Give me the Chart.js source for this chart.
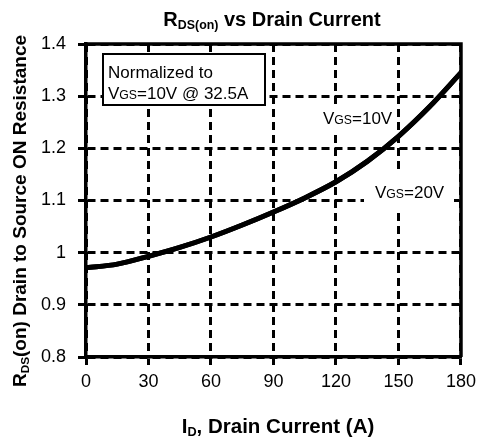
<!DOCTYPE html>
<html>
<head>
<meta charset="utf-8">
<script src="https://cdn.jsdelivr.net/npm/chart.js@4/dist/chart.umd.min.js"></script>
<style>
  html, body { margin: 0; padding: 0; background: #fff; }
  #wrap { width: 482px; height: 443px; }
</style>
</head>
<body>
<div id="wrap"><canvas id="rdsChart"></canvas></div>
<script>
// values
const drainCurrent = [0, 15, 30, 45, 60, 75, 90, 105, 120, 135, 150, 165, 180];
const rdsVgs10 = [0.971, 0.978, 0.993, 1.010, 1.030, 1.053, 1.078, 1.105, 1.136, 1.175, 1.223, 1.280, 1.345];
const rdsVgs20 = [0.971, 0.978, 0.993, 1.010, 1.030, 1.053, 1.078, 1.105, 1.136, 1.175, 1.223, 1.280, 1.345];
const xTicks = [0, 30, 60, 90, 120, 150, 180];
const yTicks = [0.8, 0.9, 1.0, 1.1, 1.2, 1.3, 1.4];

const FONT = '"Liberation Sans", Arial, sans-serif';

function toPoints(ys) {
  return drainCurrent.map((x, i) => ({ x: x, y: ys[i] }));
}

// draw text made of normal / subscript pieces
function richText(ctx, parts, x, y, size, bold, align, subScale, subDrop) {
  const w = bold ? 'bold ' : '';
  let total = 0;
  parts.forEach(p => {
    ctx.font = w + (p[1] ? size * subScale : size) + 'px ' + FONT;
    total += ctx.measureText(p[0]).width;
  });
  let cx = align === 'center' ? x - total / 2 : x;
  ctx.textBaseline = 'alphabetic';
  ctx.textAlign = 'left';
  parts.forEach(p => {
    ctx.font = w + (p[1] ? size * subScale : size) + 'px ' + FONT;
    ctx.fillText(p[0], cx, y + (p[1] ? subDrop : 0));
    cx += ctx.measureText(p[0]).width;
  });
  return total;
}

const decorations = {
  id: 'decorations',
  afterDatasetsDraw(chart) {
    const ctx = chart.ctx;
    const a = chart.chartArea;
    ctx.save();
    ctx.fillStyle = '#000';
    ctx.strokeStyle = '#000';

    // frame top and right
    ctx.lineWidth = 3.5;
    ctx.setLineDash([]);
    ctx.beginPath();
    ctx.moveTo(a.left, a.top);
    ctx.lineTo(a.right, a.top);
    ctx.lineTo(a.right, a.bottom);
    ctx.stroke();

    // annotation box
    ctx.fillStyle = '#fff';
    ctx.fillRect(103, 54, 162, 51);
    ctx.lineWidth = 2;
    ctx.strokeRect(103, 54, 162, 51);
    ctx.fillStyle = '#000';
    ctx.font = '17px ' + FONT;
    ctx.textAlign = 'left';
    ctx.textBaseline = 'alphabetic';
    ctx.fillText('Normalized to', 108, 78);
    richText(ctx, [['V', 0], ['GS', 1], ['=10V @ 32.5A', 0]], 108, 99, 17, false, 'left', 0.72, 0);

    // curve labels
    ctx.fillStyle = '#fff';
    ctx.fillRect(318, 106, 74, 24);
    ctx.fillRect(364, 174, 90, 36);
    ctx.fillStyle = '#000';
    richText(ctx, [['V', 0], ['GS', 1], ['=10V', 0]], 323, 124, 17, false, 'left', 0.72, 0);
    richText(ctx, [['V', 0], ['GS', 1], ['=20V', 0]], 375, 198, 17, false, 'left', 0.72, 0);

    // titles
    richText(ctx, [['R', 0], ['DS(on)', 1], [' vs Drain Current', 0]], 272, 26, 20, true, 'center', 0.62, 3);
    richText(ctx, [['I', 0], ['D', 1], [', Drain Current (A)', 0]], 278, 433, 20.5, true, 'center', 0.62, 3);

    ctx.save();
    ctx.translate(26, 211);
    ctx.rotate(-Math.PI / 2);
    richText(ctx, [['R', 0], ['DS', 1], ['(on) Drain to Source ON Resistance', 0]], 0, 0, 19, true, 'center', 0.62, 3);
    ctx.restore();

    ctx.restore();
  }
};

const lineStyle = {
  borderColor: '#000',
  borderWidth: 5,
  pointRadius: 0,
  fill: false,
  cubicInterpolationMode: 'monotone'
};

const gridStyle = {
  color: '#000',
  lineWidth: 3,
  tickColor: '#000',
  tickLength: 8,
  tickWidth: 3
};

new Chart(document.getElementById('rdsChart'), {
  type: 'line',
  data: {
    datasets: [
      Object.assign({ label: 'VGS=10V', data: toPoints(rdsVgs10) }, lineStyle),
      Object.assign({ label: 'VGS=20V', data: toPoints(rdsVgs20) }, lineStyle)
    ]
  },
  options: {
    responsive: true,
    maintainAspectRatio: false,
    animation: false,
    layout: { padding: { top: 44, right: 16, left: 0, bottom: 0 } },
    plugins: {
      legend: { display: false },
      title: { display: false },
      tooltip: { enabled: false }
    },
    scales: {
      x: {
        type: 'linear',
        min: xTicks[0],
        max: xTicks[xTicks.length - 1],
        afterBuildTicks: s => { s.ticks = xTicks.map(v => ({ value: v })); },
        afterFit: s => { s.height = 86; },
        ticks: {
          color: '#000',
          padding: 6,
          maxRotation: 0,
          font: { family: FONT, size: 18 }
        },
        grid: gridStyle,
        border: { display: true, color: '#000', width: 3.5, dash: [8, 5] }
      },
      y: {
        min: yTicks[0],
        max: yTicks[yTicks.length - 1],
        afterBuildTicks: s => { s.ticks = yTicks.map(v => ({ value: v })); },
        afterFit: s => { s.width = 86; },
        ticks: {
          color: '#000',
          padding: 12,
          font: { family: FONT, size: 18 },
          callback: v => (Math.abs(v - 1) < 1e-9 ? '1' : v.toFixed(1))
        },
        grid: gridStyle,
        border: { display: true, color: '#000', width: 3.5, dash: [8, 5] }
      }
    }
  },
  plugins: [decorations]
});
</script>
</body>
</html>
